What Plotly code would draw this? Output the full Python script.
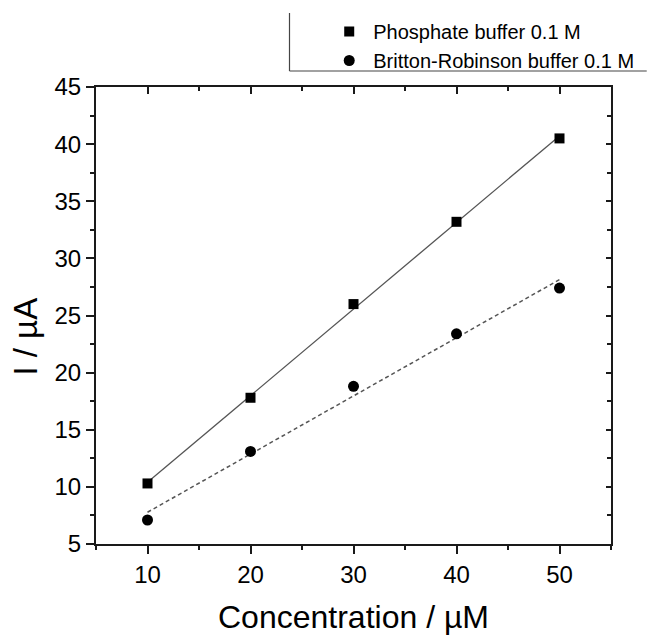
import numpy as np
import plotly.graph_objects as go

# ---- data ----
concentration = [10, 20, 30, 40, 50]
phosphate = [10.3, 17.8, 26.0, 33.2, 40.5]
britton = [7.1, 13.1, 18.8, 23.4, 27.4]
series_names = ["Phosphate buffer 0.1 M", "Britton-Robinson buffer 0.1 M"]
x_title = "Concentration / µM"
y_title = "I / µA"
x_ticks = [10, 20, 30, 40, 50]
y_ticks = [5, 10, 15, 20, 25, 30, 35, 40, 45]

FONT = "Liberation Sans, Arial, Helvetica, sans-serif"
AX = "#1a1a1a"

# linear fits
cx = np.array(concentration, dtype=float)
fit_x = [min(concentration), max(concentration)]
p1 = np.polyfit(cx, np.array(phosphate), 1)
p2 = np.polyfit(cx, np.array(britton), 1)
fit1 = list(np.polyval(p1, fit_x))
fit2 = list(np.polyval(p2, fit_x))

fig = go.Figure()
fig.add_trace(go.Scatter(x=fit_x, y=fit1, mode="lines", showlegend=False,
                         line=dict(color="#555555", width=1.3), hoverinfo="skip"))
fig.add_trace(go.Scatter(x=fit_x, y=fit2, mode="lines", showlegend=False,
                         line=dict(color="#555555", width=1.5, dash="4px,3px"), hoverinfo="skip"))
fig.add_trace(go.Scatter(x=concentration, y=phosphate, mode="markers", name=series_names[0],
                         marker=dict(symbol="square", size=10, color="black")))
fig.add_trace(go.Scatter(x=concentration, y=britton, mode="markers", name=series_names[1],
                         marker=dict(symbol="circle", size=11, color="black")))
# invisible trace for mirrored top/right axes
fig.add_trace(go.Scatter(x=concentration, y=phosphate, mode="markers", xaxis="x2", yaxis="y2",
                         marker=dict(opacity=0), showlegend=False, hoverinfo="skip"))

L, R, T, B = 96, 36, 87, 93
W, H = 651, 637
pw, ph = W - L - R, H - T - B

common = dict(showline=True, linecolor=AX, linewidth=2, showgrid=False, zeroline=False)

fig.update_layout(
    width=W, height=H,
    margin=dict(l=L, r=R, t=T, b=B),
    paper_bgcolor="white", plot_bgcolor="white",
    font=dict(family=FONT, color="black"),
    xaxis=dict(range=[5, 55], tickvals=x_ticks, ticks="outside", ticklen=8, tickwidth=1.5,
               tickcolor=AX, tickfont=dict(size=24, family=FONT, color="black"),
               minor=dict(dtick=5, tick0=0, ticks="outside", ticklen=4, tickwidth=1.5, tickcolor=AX),
               **common),
    yaxis=dict(range=[5, 45], tickvals=y_ticks, ticks="outside", ticklen=8, tickwidth=1.5,
               tickcolor=AX, tickfont=dict(size=24, family=FONT, color="black"),
               minor=dict(dtick=2.5, tick0=0, ticks="outside", ticklen=4, tickwidth=1.5, tickcolor=AX),
               **common),
    xaxis2=dict(range=[5, 55], overlaying="x", side="top", tickvals=x_ticks, ticks="inside",
                ticklen=7, tickwidth=1.5, tickcolor=AX, showticklabels=False,
                minor=dict(dtick=5, tick0=0, ticks="inside", ticklen=4, tickwidth=1.5, tickcolor=AX),
                **common),
    yaxis2=dict(range=[5, 45], overlaying="y", side="right", tickvals=y_ticks, ticks="inside",
                ticklen=5, tickwidth=1.5, tickcolor=AX, showticklabels=False,
                minor=dict(dtick=2.5, tick0=0, ticks="inside", ticklen=4, tickwidth=1.5, tickcolor=AX),
                **common),
    legend=dict(x=(327 - L) / pw, y=(H - B - 12) / ph, xanchor="left", yanchor="top",
                xref="paper", yref="paper", bgcolor="rgba(0,0,0,0)",
                font=dict(size=20, family=FONT, color="black"), itemwidth=38,
                tracegroupgap=0),
    showlegend=True,
)

# legend frame (left and bottom edges only)
fig.add_shape(type="line", xref="paper", yref="paper",
              x0=(291 - L) / pw, x1=(291 - L) / pw,
              y0=(H - B - 13) / ph, y1=(H - B - 71) / ph,
              line=dict(color="#444444", width=1.2))
fig.add_shape(type="line", xref="paper", yref="paper",
              x0=(291 - L) / pw, x1=(W - L) / pw,
              y0=(H - B - 71) / ph, y1=(H - B - 71) / ph,
              line=dict(color="#444444", width=1.2))

fig.add_annotation(text=x_title, xref="paper", yref="paper", x=0.5, y=(H - B - 617) / ph,
                   xanchor="center", yanchor="middle", showarrow=False,
                   font=dict(size=32, family=FONT, color="black"))
fig.add_annotation(text=y_title, xref="paper", yref="paper", x=(24 - L) / pw, y=(H - B - 337) / ph,
                   xanchor="center", yanchor="middle", showarrow=False, textangle=-90,
                   font=dict(size=33, family=FONT, color="black"))

fig.write_html("out.html", config={"displayModeBar": False},
               post_script="document.body.style.margin='0';document.body.style.overflow='hidden';")
